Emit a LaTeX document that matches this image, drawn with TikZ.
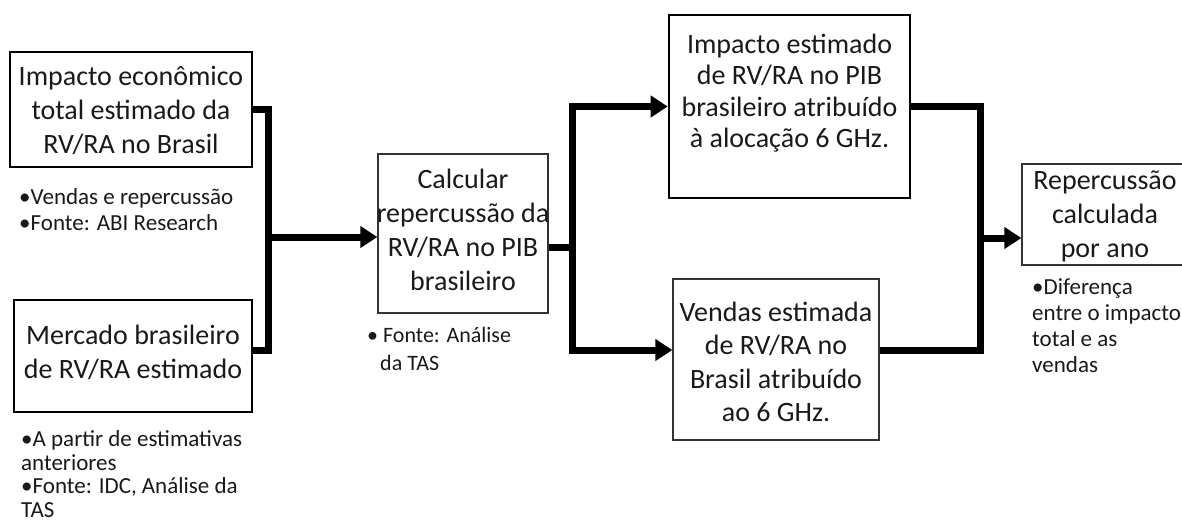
\documentclass[tikz,border=0pt]{standalone}
\usepackage{fontspec}
\setmainfont{Carlito}
\usetikzlibrary{arrows.meta}
\begin{document}
\begin{tikzpicture}[x=1pt,y=-1pt,
  thickbox/.style={draw=black, line width=2.6pt, minimum width=#1, inner sep=0},
  thinbox/.style={draw=black!80, line width=1.3pt, inner sep=0},
  boxtext/.style={align=center, inner sep=0, text=black!90,
    font=\fontsize{28}{34}\selectfont},
  note/.style={align=left, inner sep=0, anchor=base west, text=black!90,
    font=\fontsize{23}{25}\selectfont},
  conn/.style={draw=black, line width=7pt, line join=miter},
  arr/.style={conn, -{Triangle[length=17pt,width=21pt]}},
  arrboth/.style={conn, {Triangle[length=17pt,width=21pt]}-{Triangle[length=17pt,width=21pt]}}]
\clip (0,0) rectangle (1182,523);

% input boxes (notes are placed by the baseline of their last line)
\node[thickbox=242pt, minimum height=115pt] (b1) at (131,109.5) {};
\node[boxtext] (t1) at (131,110) {Impacto econômico\\total estimado da\\RV/RA no Brasil};
\node[note, font=\fontsize{23}{26}\selectfont] (n1) at (19,230)
  {•Vendas e repercussão\\•Fonte: ABI Research};

\node[thickbox=238pt, minimum height=112pt] (b2) at (133,356) {};
\node[boxtext] (t2) at (133,352) {Mercado brasileiro\\de RV/RA estimado};
\node[note, font=\fontsize{23}{23.5}\selectfont] (n2) at (21,517)
  {•A partir de estimativas\\anteriores\\•Fonte: IDC, Análise da\\TAS};

% calculation box
\node[thinbox, minimum width=170pt, minimum height=159pt] (b3) at (463,233.5) {};
\node[boxtext] (t3) at (463,230) {Calcular\\repercussão da\\RV/RA no PIB\\brasileiro};
\node[note, font=\fontsize{22}{28}\selectfont] (n3) at (367,370)
  {•\hspace{5pt}Fonte: Análise\\\hspace*{13pt}da TAS};

% split into impact and sales
\node[thickbox=241pt, minimum height=183pt] (b4) at (789.5,106.5) {};
\node[boxtext, font=\fontsize{28}{31.5}\selectfont] (t4) at (789.5,93)
  {Impacto estimado\\de RV/RA no PIB\\brasileiro atribuído\\à alocação 6 GHz.};

\node[thinbox, minimum width=206pt, minimum height=161pt] (b5) at (776,359.5) {};
\node[boxtext, font=\fontsize{28}{33.5}\selectfont] (t5) at (776,362)
  {Vendas estimada\\de RV/RA no\\Brasil atribuído\\ao 6 GHz.};

% result box
\node[thinbox, minimum width=168pt, minimum height=101pt] (b6) at (1106,214.5) {};
\node[boxtext] (t6) at (1105,216) {Repercussão\\calculada\\por ano};
\node[note, font=\fontsize{23}{26}\selectfont] (n4) at (1032,372)
  {•Diferença\\entre o impacto\\total e as\\vendas};

% connectors
\coordinate (j1) at (268,237);
\draw[conn] (b1.east) -| (j1) |- ([yshift=6pt]b2.east);
\draw[arr] (j1) -- (j1 -| b3.west);

\coordinate (j2) at (572,247);
\draw[conn] (j2 -| b3.east) -- (j2);
\draw[arrboth] (b4.west) -| (j2) |- ([yshift=9.5pt]b5.west);

\coordinate (j3) at (980,238);
\draw[conn] (b4.east) -| (j3) |- ([yshift=9.5pt]b5.east);
\draw[arr] (j3) -- (j3 -| b6.west);
\end{tikzpicture}
\end{document}
